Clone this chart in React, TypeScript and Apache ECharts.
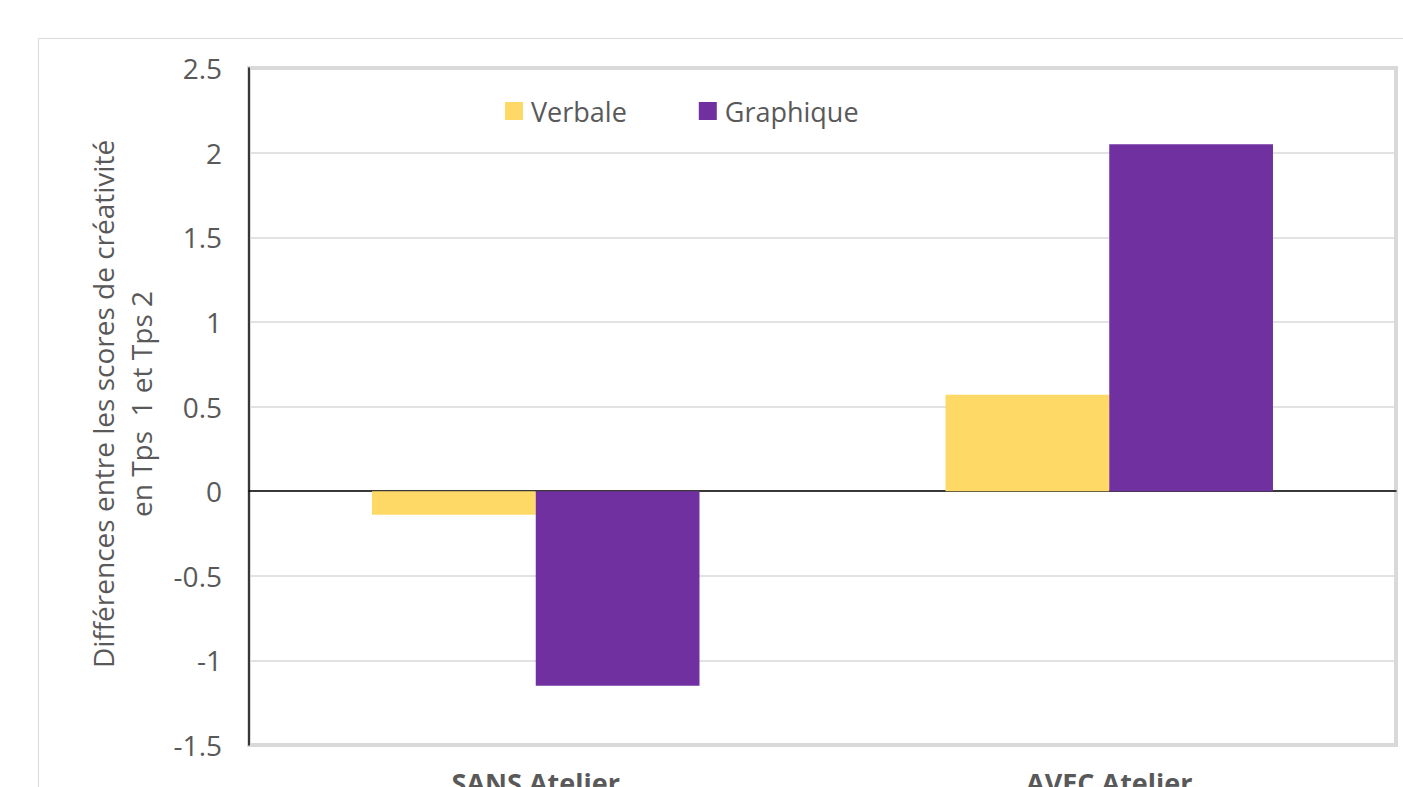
import React, { useEffect, useRef } from "react";
import * as echarts from "echarts";

const categories = ["SANS Atelier", "AVEC Atelier"];
const verbale = [-0.14, 0.57];
const graphique = [-1.15, 2.05];
const yMin = -1.5;
const yMax = 2.5;
const yStep = 0.5;
const yTitle = "Différences entre les scores de créativité\nen Tps  1 et Tps 2";

const FONT = "'Open Sans', Lato, sans-serif";

export default function App() {
  const ref = useRef<HTMLDivElement>(null);
  useEffect(() => {
    if (!ref.current) return;
    const chart = echarts.init(ref.current, null, { renderer: "svg" });
    chart.setOption({
      animation: false,
      backgroundColor: "#ffffff",
      textStyle: { fontFamily: FONT },
      grid: {
        left: 249,
        right: 7,
        top: 68,
        bottom: 42,
        show: true,
        borderColor: "#d9d9d9",
        borderWidth: 4,
        backgroundColor: "transparent",
        containLabel: false,
        outerBoundsMode: "none",
      },
      legend: {
        left: 505,
        top: 97,
        padding: 0,
        itemWidth: 18,
        itemHeight: 18,
        itemGap: 72,
        icon: "rect",
        textStyle: {
          fontSize: 27,
          lineHeight: 28,
          color: "#595959",
          fontFamily: FONT,
          padding: [0, 0, 0, 3],
        },
        data: ["Verbale", "Graphique"],
      },
      graphic: [
        {
          type: "rect",
          silent: true,
          shape: { x: 38.5, y: 38.5, width: 1500, height: 1000 },
          style: { fill: "none", stroke: "#d9d9d9", lineWidth: 1 },
          z: -10,
        },
        {
          type: "text",
          x: 122,
          y: 404,
          rotation: Math.PI / 2,
          style: {
            text: yTitle,
            fontSize: 28,
            lineHeight: 38,
            fill: "#595959",
            fontFamily: FONT,
            textAlign: "center",
            textVerticalAlign: "middle",
          },
        },
      ],
      xAxis: {
        type: "category",
        data: categories,
        axisLine: { onZero: true, lineStyle: { color: "#000000", width: 1.5 } },
        axisTick: { show: false },
        axisLabel: {
          fontSize: 27,
          fontWeight: "bold",
          color: "#595959",
          margin: 24,
          fontFamily: FONT,
        },
        splitLine: { show: false },
      },
      yAxis: {
        type: "value",
        min: yMin,
        max: yMax,
        interval: yStep,
        axisLine: { show: true, lineStyle: { color: "#000000", width: 1.5 } },
        axisTick: { show: false },
        axisLabel: { fontSize: 28, color: "#595959", margin: 27, fontFamily: FONT },
        splitLine: { show: true, lineStyle: { color: "#d9d9d9", width: 1.5 } },
      },
      series: [
        {
          name: "Verbale",
          type: "bar",
          data: verbale,
          itemStyle: { color: "#FFD966" },
          barGap: "0%",
          barCategoryGap: "42.9%",
        },
        {
          name: "Graphique",
          type: "bar",
          data: graphique,
          itemStyle: { color: "#7030A0" },
          barGap: "0%",
          barCategoryGap: "42.9%",
        },
      ],
    });
    return () => chart.dispose();
  }, []);
  return (
    <div
      ref={ref}
      style={{ position: "fixed", left: 0, top: 0, width: 1403, height: 787 }}
    />
  );
}
